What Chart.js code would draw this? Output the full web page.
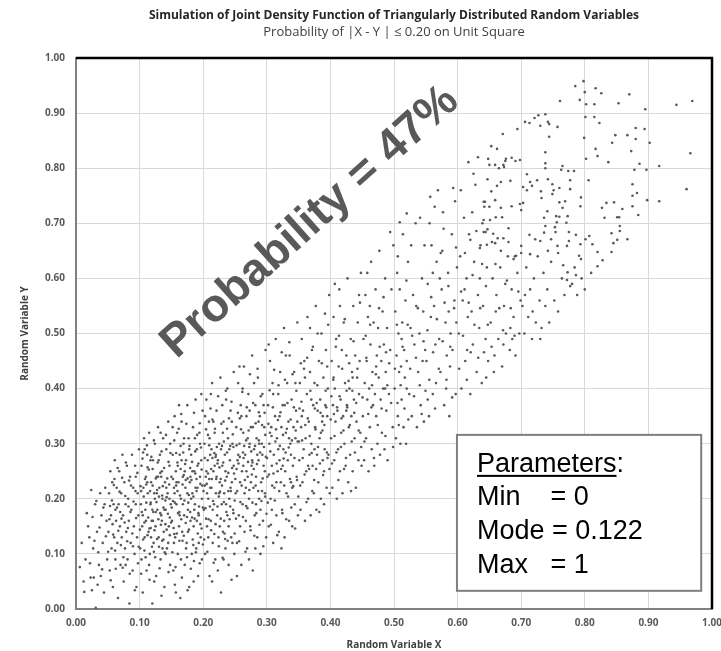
<!DOCTYPE html>
<html>
<head>
<meta charset="utf-8">
<script src="https://cdn.jsdelivr.net/npm/chart.js@4.4.1/dist/chart.umd.min.js"></script>
<style>
  html, body { margin: 0; padding: 0; background: #fff; }
  canvas { display: block; }
</style>
</head>
<body>
<canvas id="jointChart" width="721" height="651"></canvas>
<script>
const chartTitle = "Simulation of Joint Density Function of Triangularly Distributed Random Variables";
const chartSubtitle = "Probability of |X - Y | \u2264 0.20 on Unit Square";
const xAxisTitle = "Random Variable X";
const yAxisTitle = "Random Variable Y";
const tickValues = [0, 0.1, 0.2, 0.3, 0.4, 0.5, 0.6, 0.7, 0.8, 0.9, 1];
const probabilityLabel = "Probability = 47%";
const paramHeading = "Parameters";
const paramLines = ["Min    = 0", "Mode = 0.122", "Max   = 1"];

// simulated (x, y) pairs, read off the picture strip by strip
const samples = [
  // x 0.00 - 0.05
  [.006,.076],[.023,.057],[.028,.057],[.034,.044],[.013,.031],[.031,.002],[.017,.174],[.024,.216],[.009,.12],[.015,.09],[.019,.15],[.027,.11],[.03,.19],[.033,.14],[.036,.08],[.038,.21],[.04,.17],[.042,.12],[.044,.03],[.046,.22],[.048,.16],[.049,.09],[.021,.13],[.039,.06],[.045,.19],[.012,.05],
  [.022,.083],[.026,.167],[.029,.124],[.032,.196],[.035,.103],[.037,.148],[.041,.072],[.043,.184],[.047,.132],[.025,.034],
  // x 0.05 - 0.10
  [.051,.14],[.052,.21],[.053,.07],[.054,.25],[.055,.17],[.056,.11],[.057,.23],[.058,.04],[.059,.19],[.06,.13],[.061,.27],[.062,.09],[.063,.16],[.064,.22],[.065,.12],[.066,.02],[.067,.19],[.068,.25],[.069,.15],[.07,.08],[.071,.21],[.072,.13],[.073,.28],[.074,.17],[.075,.05],[.076,.23],[.077,.11],[.078,.19],[.079,.14],[.08,.26],[.081,.09],[.082,.20],[.083,.16],[.084,.01],[.085,.24],[.086,.12],[.087,.18],[.088,.28],[.089,.07],[.09,.22],[.091,.15],[.092,.10],[.093,.26],[.094,.19],[.095,.04],[.096,.13],[.097,.21],[.098,.17],[.099,.29],[.062,.18],[.078,.08],[.094,.24],
  [.0505,.104],[.0525,.163],[.0545,.052],[.0565,.197],[.0585,.135],[.0605,.236],[.0625,.073],[.0645,.184],[.0665,.142],[.0685,.213],[.0705,.116],[.0725,.238],[.0745,.094],[.0765,.157],[.0785,.266],[.0805,.123],[.0825,.186],[.0845,.064],[.0865,.224],[.0885,.137],[.0905,.195],[.0925,.034],[.0945,.165],[.0965,.247],[.0985,.113],[.0535,.187],[.0575,.154],[.0615,.106],[.0655,.256],[.0695,.176],[.0735,.075],[.0775,.205],[.0815,.147],[.0855,.176],[.0895,.114],[.0935,.214],[.0975,.083],[.0595,.225],[.0715,.164],[.0835,.233],
  // x 0.10 - 0.15
  [.101,.11],[.102,.19],[.103,.26],[.104,.15],[.105,.03],[.106,.22],[.107,.31],[.108,.13],[.109,.18],[.11,.24],[.111,.07],[.112,.28],[.113,.21],[.114,.14],[.115,.32],[.116,.10],[.117,.19],[.118,.23],[.119,.16],[.12,.01],[.121,.27],[.122,.12],[.123,.21],[.124,.30],[.125,.15],[.126,.06],[.127,.24],[.128,.18],[.129,.33],[.13,.13],[.131,.22],[.132,.28],[.133,.09],[.134,.17],[.135,.25],[.136,.20],[.137,.31],[.138,.14],[.139,.04],[.14,.23],[.141,.18],[.142,.29],[.143,.11],[.144,.21],[.145,.34],[.146,.15],[.147,.26],[.148,.08],[.149,.19],[.105,.17],[.112,.23],[.118,.13],[.124,.20],[.13,.27],[.136,.11],[.142,.22],[.148,.30],[.108,.29],[.115,.08],[.121,.16],[.127,.21],[.133,.32],[.139,.18],[.145,.12],[.15,.24],[.103,.09],[.11,.16],[.117,.27],[.123,.05],[.129,.24],[.135,.16],[.141,.10],[.147,.20],[.12,.18],[.134,.24],
  [.1005,.144],[.1015,.223],[.1025,.064],[.1035,.176],[.1045,.273],[.1055,.126],[.1065,.204],[.1075,.157],[.1085,.236],[.1095,.094],[.1105,.193],[.1115,.297],[.1125,.134],[.1135,.166],[.1145,.253],[.1155,.053],[.1165,.214],[.1175,.147],[.1185,.276],[.1195,.113],[.1205,.224],[.1215,.176],[.1225,.306],[.1235,.143],[.1245,.094],[.1255,.237],[.1265,.194],[.1275,.127],[.1285,.266],[.1295,.163],[.1305,.204],[.1315,.074],[.1325,.247],[.1335,.153],[.1345,.286],[.1355,.124],[.1365,.223],[.1375,.184],[.1385,.256],[.1395,.103],[.1405,.197],[.1415,.316],[.1425,.144],[.1435,.237],[.1445,.173],[.1455,.067],[.1465,.226],[.1475,.134],[.1485,.283],[.1495,.157],[.1025,.214],[.1075,.106],[.1125,.257],[.1175,.193],[.1225,.104],[.1275,.216],[.1325,.174],[.1375,.126],[.1425,.203],[.1475,.166],[.1055,.284],[.1105,.226],[.1155,.146],[.1205,.254],[.1255,.176],[.1305,.113],[.1355,.206],[.1405,.154],[.1455,.267],[.1345,.024],
  // x 0.15 - 0.20
  [.151,.16],[.152,.28],[.153,.07],[.154,.22],[.155,.35],[.156,.13],[.157,.25],[.158,.19],[.159,.32],[.16,.10],[.161,.23],[.162,.15],[.163,.28],[.164,.02],[.165,.20],[.166,.34],[.167,.14],[.168,.24],[.169,.30],[.17,.17],[.171,.08],[.172,.22],[.173,.27],[.174,.12],[.175,.37],[.176,.18],[.177,.31],[.178,.04],[.179,.23],[.18,.16],[.181,.28],[.182,.10],[.183,.21],[.184,.33],[.185,.15],[.186,.25],[.187,.19],[.188,.38],[.189,.11],[.19,.29],[.191,.22],[.192,.06],[.193,.17],[.194,.32],[.195,.24],[.196,.13],[.197,.27],[.198,.20],[.199,.36],[.155,.21],[.16,.26],[.165,.09],[.17,.31],[.175,.21],[.18,.24],[.185,.05],[.19,.16],[.195,.30],[.158,.23],[.163,.17],[.168,.19],[.173,.11],[.178,.29],[.183,.25],[.188,.22],[.193,.12],[.198,.09],[.152,.33],[.162,.37],[.187,.31],[.197,.39],[.154,.12],[.166,.27],[.176,.14],[.186,.18],[.171,.25],[.181,.20],[.191,.26],[.157,.03],
  [.1505,.184],[.1515,.103],[.1525,.236],[.1535,.147],[.1545,.306],[.1555,.193],[.1565,.076],[.1575,.224],[.1585,.137],[.1595,.266],[.1605,.174],[.1615,.327],[.1625,.124],[.1635,.206],[.1645,.254],[.1655,.163],[.1665,.057],[.1675,.226],[.1685,.284],[.1695,.133],[.1705,.197],[.1715,.263],[.1725,.156],[.1735,.336],[.1745,.094],[.1755,.237],[.1765,.193],[.1775,.144],[.1785,.296],[.1795,.176],[.1805,.073],[.1815,.234],[.1825,.267],[.1835,.126],[.1845,.204],[.1855,.356],[.1865,.164],[.1875,.246],[.1885,.103],[.1895,.214],[.1905,.316],[.1915,.137],[.1925,.264],[.1935,.186],[.1945,.083],[.1955,.227],[.1965,.293],[.1975,.146],[.1985,.224],[.1995,.117],[.1525,.196],[.1575,.283],[.1625,.176],[.1675,.124],[.1725,.234],[.1775,.207],[.1825,.166],[.1875,.286],[.1925,.174],[.1975,.253],[.1545,.136],[.1595,.214],[.1645,.296],[.1695,.243],[.1745,.167],[.1795,.256],[.1845,.116],[.1895,.236],[.1945,.337],[.1995,.184],[.1555,.044],[.1655,.354],[.1755,.034],[.1855,.087],[.1955,.154],
  // x 0.20 - 0.25
  [.201,.18],[.202,.30],[.203,.10],[.204,.24],[.205,.38],[.206,.15],[.207,.27],[.208,.20],[.209,.34],[.21,.06],[.211,.22],[.212,.16],[.213,.29],[.214,.41],[.215,.12],[.216,.25],[.217,.19],[.218,.32],[.219,.09],[.22,.21],[.221,.36],[.222,.17],[.223,.27],[.224,.13],[.225,.30],[.226,.23],[.227,.42],[.228,.03],[.229,.19],[.23,.26],[.231,.14],[.232,.34],[.233,.21],[.234,.28],[.235,.11],[.236,.38],[.237,.24],[.238,.17],[.239,.31],[.24,.08],[.241,.20],[.242,.27],[.243,.36],[.244,.13],[.245,.23],[.246,.30],[.247,.18],[.248,.43],[.249,.10],[.205,.25],[.21,.31],[.215,.18],[.22,.28],[.225,.21],[.23,.37],[.235,.25],[.24,.15],[.245,.34],[.203,.35],[.208,.13],[.213,.22],[.218,.26],[.223,.07],[.228,.29],[.233,.16],[.238,.40],[.243,.22],[.248,.26],[.212,.39],[.232,.09],[.206,.21],[.216,.34],[.226,.15],[.236,.19],[.246,.12],[.211,.28],[.221,.24],[.231,.32],[.241,.29],[.214,.05],
  [.2005,.214],[.2015,.126],[.2025,.274],[.2035,.183],[.2045,.326],[.2055,.227],[.2065,.104],[.2075,.246],[.2085,.163],[.2095,.297],[.2105,.186],[.2115,.364],[.2125,.143],[.2135,.236],[.2145,.274],[.2155,.196],[.2165,.084],[.2175,.283],[.2185,.327],[.2195,.154],[.2205,.236],[.2215,.294],[.2225,.186],[.2235,.386],[.2245,.114],[.2255,.257],[.2265,.213],[.2275,.164],[.2285,.336],[.2295,.224],[.2305,.093],[.2315,.266],[.2325,.304],[.2335,.137],[.2345,.233],[.2355,.396],[.2365,.176],[.2375,.284],[.2385,.124],[.2395,.247],[.2405,.346],[.2415,.163],[.2425,.296],[.2435,.214],[.2445,.053],[.2455,.256],[.2465,.317],[.2475,.174],[.2485,.246],[.2495,.137],[.2025,.224],[.2075,.316],[.2125,.254],[.2175,.136],[.2225,.264],[.2275,.236],[.2325,.194],[.2375,.327],[.2425,.186],[.2475,.294],[.2045,.164],[.2095,.236],[.2145,.344],[.2195,.276],[.2245,.204],[.2295,.296],[.2345,.127],[.2395,.214],[.2445,.376],[.2495,.197],
  // x 0.25 - 0.30
  [.251,.21],[.252,.33],[.253,.12],[.254,.27],[.255,.41],[.256,.17],[.257,.30],[.258,.23],[.259,.37],[.26,.08],[.261,.25],[.262,.19],[.263,.32],[.264,.44],[.265,.14],[.266,.28],[.267,.22],[.268,.35],[.269,.11],[.27,.24],[.271,.39],[.272,.20],[.273,.30],[.274,.15],[.275,.33],[.276,.26],[.277,.46],[.278,.07],[.279,.22],[.28,.29],[.281,.17],[.282,.37],[.283,.24],[.284,.31],[.285,.13],[.286,.42],[.287,.27],[.288,.20],[.289,.35],[.29,.10],[.291,.23],[.292,.30],[.293,.39],[.294,.16],[.295,.26],[.296,.33],[.297,.21],[.298,.47],[.299,.13],[.255,.28],[.26,.35],[.265,.21],[.27,.31],[.275,.23],[.28,.41],[.285,.28],[.29,.18],[.295,.37],[.258,.15],[.268,.25],[.278,.33],[.288,.30],[.297,.25],[.262,.40],[.282,.11],[.253,.06],[.263,.26],[.273,.36],[.283,.19],[.293,.28],[.257,.44],[.267,.16],[.277,.27],[.287,.34],[.272,.09],
  [.2505,.236],[.2515,.164],[.2525,.297],[.2535,.214],[.2545,.356],[.2555,.264],[.2565,.123],[.2575,.276],[.2585,.194],[.2595,.326],[.2605,.224],[.2615,.394],[.2625,.167],[.2635,.274],[.2645,.296],[.2655,.234],[.2665,.104],[.2675,.306],[.2685,.366],[.2695,.183],[.2705,.267],[.2715,.324],[.2725,.216],[.2735,.426],[.2745,.143],[.2755,.286],[.2765,.244],[.2775,.193],[.2785,.374],[.2795,.254],[.2805,.133],[.2815,.296],[.2825,.337],[.2835,.174],[.2845,.263],[.2855,.436],[.2865,.214],[.2875,.306],[.2885,.153],[.2895,.284],[.2905,.386],[.2915,.196],[.2925,.334],[.2935,.237],[.2945,.114],[.2955,.294],[.2965,.356],[.2975,.204],[.2985,.276],[.2995,.173],[.2525,.254],[.2575,.346],[.2625,.284],[.2675,.187],[.2725,.294],[.2775,.266],[.2825,.224],[.2875,.357],[.2925,.214],[.2975,.316],
  // x 0.30 - 0.35
  [.301,.24],[.302,.37],[.303,.15],[.304,.30],[.305,.45],[.306,.20],[.307,.33],[.308,.26],[.309,.41],[.31,.12],[.311,.28],[.312,.22],[.313,.35],[.314,.49],[.315,.17],[.316,.31],[.317,.25],[.318,.39],[.319,.14],[.32,.27],[.321,.43],[.322,.23],[.323,.33],[.324,.18],[.325,.37],[.326,.29],[.327,.51],[.328,.13],[.329,.25],[.33,.32],[.331,.21],[.332,.41],[.333,.27],[.334,.34],[.335,.16],[.336,.46],[.337,.30],[.338,.23],[.339,.38],[.34,.15],[.341,.26],[.342,.33],[.343,.43],[.344,.19],[.345,.31],[.346,.36],[.347,.24],[.348,.52],[.349,.17],[.305,.32],[.31,.39],[.315,.23],[.32,.35],[.325,.26],[.33,.46],[.335,.31],[.34,.22],[.345,.41],[.308,.18],[.328,.37],[.303,.48],[.318,.29],[.338,.28],[.348,.34],[.323,.11],
  [.3005,.274],[.3015,.193],[.3025,.336],[.3035,.244],[.3045,.397],[.3055,.286],[.3065,.153],[.3075,.314],[.3085,.224],[.3095,.366],[.3105,.246],[.3115,.434],[.3125,.197],[.3135,.304],[.3145,.326],[.3155,.264],[.3165,.134],[.3175,.343],[.3185,.406],[.3195,.214],[.3205,.296],[.3215,.357],[.3225,.254],[.3235,.466],[.3245,.174],[.3255,.316],[.3265,.273],[.3275,.224],[.3285,.416],[.3295,.284],[.3305,.163],[.3315,.327],[.3325,.374],[.3335,.204],[.3345,.293],[.3355,.484],[.3365,.236],[.3375,.344],[.3385,.184],[.3395,.306],[.3405,.426],[.3415,.223],[.3425,.366],[.3435,.274],[.3445,.146],[.3455,.324],[.3465,.396],[.3475,.234],[.3485,.304],[.3495,.204],
  // x 0.35 - 0.40
  [.351,.27],[.352,.41],[.353,.18],[.354,.33],[.355,.49],[.356,.23],[.357,.36],[.358,.29],[.359,.45],[.36,.16],[.361,.31],[.362,.25],[.363,.39],[.364,.53],[.365,.20],[.366,.34],[.367,.28],[.368,.43],[.369,.17],[.37,.30],[.371,.47],[.372,.26],[.373,.37],[.374,.21],[.375,.41],[.376,.33],[.377,.55],[.378,.18],[.379,.28],[.38,.36],[.381,.23],[.382,.45],[.383,.31],[.384,.38],[.385,.20],[.386,.50],[.387,.34],[.388,.27],[.389,.42],[.39,.19],[.391,.29],[.392,.37],[.393,.47],[.394,.22],[.395,.35],[.396,.40],[.397,.28],[.398,.57],[.399,.21],[.355,.35],[.36,.42],[.365,.26],[.37,.38],[.375,.29],[.38,.50],[.385,.32],[.39,.25],[.395,.44],[.368,.51],[.388,.35],
  [.3505,.304],[.3525,.224],[.3545,.376],[.3565,.274],[.3585,.436],[.3605,.334],[.3625,.194],[.3645,.346],[.3665,.254],[.3685,.396],[.3705,.283],[.3725,.476],[.3745,.234],[.3765,.326],[.3785,.374],[.3805,.294],[.3825,.176],[.3845,.356],[.3865,.446],[.3885,.243],[.3905,.334],[.3925,.396],[.3945,.284],[.3965,.516],[.3985,.254],[.3515,.364],[.3555,.306],[.3595,.244],[.3635,.456],[.3675,.314],[.3715,.214],[.3755,.364],[.3795,.406],[.3835,.264],[.3875,.324],[.3915,.536],[.3955,.274],[.3535,.446],[.3775,.254],[.3935,.366],
  // x 0.40 - 0.45
  [.401,.31],[.402,.45],[.403,.22],[.404,.37],[.405,.53],[.406,.27],[.407,.40],[.408,.34],[.409,.49],[.41,.20],[.411,.36],[.412,.29],[.413,.44],[.414,.58],[.415,.25],[.416,.38],[.417,.32],[.418,.47],[.419,.21],[.42,.35],[.421,.52],[.422,.30],[.423,.41],[.424,.26],[.425,.46],[.426,.37],[.427,.60],[.428,.23],[.429,.33],[.43,.40],[.431,.28],[.432,.49],[.433,.35],[.434,.43],[.435,.25],[.436,.55],[.437,.38],[.438,.31],[.439,.46],[.44,.22],[.441,.34],[.442,.42],[.443,.52],[.444,.27],[.445,.39],[.446,.45],[.447,.32],[.448,.61],[.449,.26],[.405,.42],[.425,.36],[.415,.55],[.435,.42],[.407,.59],[.445,.57],
  [.4005,.344],[.4025,.264],[.4045,.416],[.4065,.314],[.4085,.476],[.4105,.366],[.4125,.234],[.4145,.386],[.4165,.294],[.4185,.436],[.4205,.324],[.4225,.526],[.4245,.274],[.4265,.366],[.4285,.414],[.4305,.334],[.4325,.214],[.4345,.396],[.4365,.486],[.4385,.284],[.4405,.374],[.4425,.436],[.4445,.324],[.4465,.556],[.4485,.294],[.4015,.386],[.4055,.354],[.4095,.284],[.4135,.496],[.4175,.346],[.4215,.254],[.4255,.396],[.4295,.446],[.4335,.304],[.4375,.356],
  // x 0.45 - 0.50
  [.451,.35],[.452,.49],[.453,.27],[.454,.41],[.455,.57],[.456,.31],[.457,.45],[.458,.38],[.459,.53],[.46,.25],[.461,.40],[.462,.33],[.463,.48],[.464,.63],[.465,.29],[.466,.43],[.467,.37],[.468,.52],[.469,.26],[.47,.39],[.471,.58],[.472,.35],[.473,.46],[.474,.30],[.475,.51],[.476,.42],[.477,.65],[.478,.28],[.479,.38],[.48,.45],[.481,.32],[.482,.54],[.483,.40],[.484,.48],[.485,.29],[.486,.60],[.487,.43],[.488,.36],[.489,.51],[.49,.27],[.492,.39],[.494,.47],[.496,.58],[.498,.33],[.499,.66],[.494,.684],[.458,.61],[.472,.44],[.486,.40],[.462,.55],
  [.4505,.384],[.4535,.304],[.4565,.456],[.4595,.354],[.4625,.516],[.4655,.406],[.4685,.274],[.4715,.426],[.4745,.334],[.4775,.476],[.4805,.364],[.4835,.566],[.4865,.314],[.4895,.406],[.4925,.446],[.4955,.374],[.4985,.294],[.4555,.496],[.4645,.366],[.4765,.546],[.4875,.466],
  // x 0.50 - 0.55
  [.501,.40],[.502,.54],[.503,.31],[.504,.46],[.505,.61],[.506,.35],[.507,.50],[.508,.43],[.509,.58],[.51,.30],[.511,.44],[.512,.38],[.513,.52],[.514,.68],[.515,.33],[.516,.47],[.517,.42],[.518,.56],[.519,.30],[.52,.45],[.522,.63],[.524,.39],[.526,.51],[.528,.35],[.53,.57],[.532,.48],[.534,.70],[.536,.33],[.538,.43],[.54,.50],[.542,.37],[.544,.60],[.545,.45],[.546,.54],[.547,.34],[.548,.66],[.549,.47],[.509,.702],[.52,.718],[.506,.64],[.52,.40],[.535,.55],[.527,.66],[.541,.71],[.512,.49],
  [.5015,.436],[.5045,.516],[.5075,.334],[.5105,.406],[.5135,.476],[.5165,.364],[.5195,.596],[.5225,.344],[.5255,.436],[.5285,.496],[.5315,.386],[.5345,.456],[.5375,.546],[.5405,.406],[.5435,.354],[.5465,.486],[.5495,.396],[.5055,.374],[.5215,.516],
  // x 0.55 - 0.60
  [.551,.45],[.553,.59],[.555,.35],[.557,.748],[.559,.66],[.561,.39],[.563,.55],[.565,.48],[.567,.63],[.569,.760],[.571,.49],[.573,.43],[.575,.58],[.577,.72],[.579,.37],[.581,.52],[.583,.46],[.585,.61],[.587,.35],[.589,.50],[.591,.68],[.593,.764],[.595,.56],[.597,.39],[.599,.62],[.556,.70],[.566,.41],[.576,.65],[.586,.54],[.596,.74],[.558,.53],[.572,.60],[.582,.40],[.592,.47],[.564,.73],[.553,.38],[.578,.69],[.588,.44],[.598,.52],[.561,.61],
  [.5525,.506],[.5555,.416],[.5585,.566],[.5615,.466],[.5645,.364],[.5675,.526],[.5705,.436],[.5735,.646],[.5765,.486],[.5795,.556],[.5825,.416],[.5855,.586],[.5885,.476],[.5915,.384],[.5945,.546],[.5975,.656],
  // x 0.60 - 0.65
  [.602,.50],[.604,.64],[.606,.40],[.608,.56],[.61,.71],[.612,.45],[.614,.60],[.616,.53],[.617,.811],[.618,.68],[.62,.39],[.622,.54],[.624,.48],[.626,.63],[.628,.77],[.63,.43],[.632,.820],[.632,.57],[.634,.51],[.636,.66],[.638,.41],[.64,.55],[.642,.73],[.644,.49],[.646,.62],[.648,.45],[.605,.76],[.615,.47],[.625,.79],[.635,.60],[.645,.42],[.62,.67],[.611,.58],[.623,.72],[.639,.70],[.647,.78],
  [.6025,.436],[.6055,.576],[.6085,.496],[.6115,.646],[.6145,.416],[.6175,.556],[.6205,.466],[.6235,.606],[.6265,.516],[.6295,.686],[.6325,.456],[.6355,.546],[.6385,.626],[.6415,.466],[.6445,.586],[.6475,.516],
  // x 0.65 - 0.70
  [.652,.52],[.655,.60],[.658,.46],[.661,.57],[.664,.49],[.667,.62],[.67,.44],[.673,.55],[.676,.50],[.679,.64],[.682,.47],[.685,.58],[.688,.53],[.691,.46],[.694,.61],[.697,.50],[.699,.56],[.66,.54],[.668,.65],[.675,.59],[.683,.51],[.69,.64],[.657,.43],[.672,.48],[.686,.49],
  [.6535,.476],[.6595,.626],[.6655,.546],[.6715,.506],[.6775,.596],[.6835,.546],[.6895,.496],[.6955,.576],
  // x 0.70 - 0.80, lower part
  [.702,.55],[.705,.50],[.708,.62],[.711,.53],[.714,.58],[.717,.49],[.72,.60],[.723,.52],[.726,.64],[.729,.56],[.732,.51],[.735,.61],[.738,.55],[.741,.58],[.744,.52],[.747,.63],[.706,.57],[.718,.54],[.73,.49],[.742,.65],
  [.752,.56],[.758,.54],[.764,.60],[.768,.57],[.78,.59],[.788,.57],[.795,.60],[.784,.62],[.80,.58],[.81,.61],
  // upper right tail
  [.798,.958],[.785,.949],[.817,.945],[.826,.936],[.870,.934],[.944,.915],[.969,.922],[.966,.827],[.960,.762],[.917,.740],[.898,.742],[.917,.804],[.895,.907],[.902,.846],[.761,.922],[.792,.924],[.800,.938],[.802,.916],[.815,.916],[.853,.918],[.801,.893],[.815,.893],[.823,.882],[.799,.855],[.817,.835],[.820,.822],[.802,.817],[.837,.811],[.848,.860],[.843,.846],[.867,.860],[.880,.873],[.894,.871],[.880,.853],[.873,.831],[.886,.808],[.878,.797],[.897,.797],[.875,.771],[.882,.755],[.875,.750],[.875,.731],[.884,.715],[.859,.726],[.854,.711],[.851,.711],[.855,.695],[.855,.686],[.867,.671],[.846,.738],[.834,.737],[.827,.728],[.831,.710],[.842,.682],[.851,.670],[.842,.648],[.845,.664],[.828,.633],[.820,.622],[.820,.648],[.812,.662],[.801,.671],[.807,.677],[.793,.662],[.791,.641],[.794,.635],[.786,.606],[.777,.586],[.772,.597],[.773,.611],[.766,.624],[.758,.646],[.772,.659],[.775,.684],[.786,.679],[.775,.668],[.757,.659],[.754,.684],[.771,.701],[.760,.712],[.756,.702],[.755,.713],[.741,.722],[.736,.710],[.738,.695],[.736,.683],[.730,.668],[.722,.671],[.747,.671],[.753,.693],[.773,.713],[.765,.728],[.760,.738],[.769,.740],[.777,.762],[.777,.778],[.794,.747],[.793,.731],[.806,.778],[.763,.797],[.765,.804],[.774,.795],[.783,.795],[.749,.771],[.742,.780],[.749,.753],[.751,.760],[.760,.764],[.732,.746],[.731,.758],[.725,.778],[.714,.775],[.717,.768],[.703,.766],[.709,.760],[.709,.789],[.738,.829],[.738,.809],[.738,.800],[.744,.857],[.757,.875],[.742,.884],[.744,.880],[.730,.877],[.738,.898],[.727,.896],[.721,.891],[.713,.882],[.706,.884],[.694,.871],[.671,.862],[.653,.840],[.662,.835],[.648,.817],[.676,.817],[.675,.813],[.685,.819],[.691,.813],[.698,.815],[.650,.806],[.665,.800],[.672,.806],[.673,.802],[.659,.806],[.698,.735],[.703,.737],[.700,.724],[.683,.777],[.668,.775],[.662,.768],[.653,.758],[.685,.731],[.668,.728],[.659,.742],[.641,.739],[.643,.739],[.650,.730],[.660,.711],[.670,.711],[.641,.706],[.651,.706],[.680,.691],[.641,.684],[.644,.684],[.647,.689],[.656,.681],[.663,.673],[.672,.673],[.680,.666],[.654,.666],[.659,.664],[.646,.661],[.635,.655],[.700,.659],[.713,.679],[.700,.646],[.692,.641],[.688,.635],[.714,.644]
];

const tickFont = { family: "'Open Sans', sans-serif", size: 10, weight: 'bold' };
const axisTitleFont = { family: "'Open Sans', sans-serif", size: 10, weight: 'bold' };

// frame on top/right, rotated label and parameter box
const overlay = {
  id: 'overlay',
  afterDatasetsDraw(chart) {
    const { ctx, chartArea: a, scales: { x, y } } = chart;
    ctx.save();

    ctx.strokeStyle = '#000000';
    ctx.lineWidth = 2.5;
    ctx.beginPath();
    ctx.moveTo(a.left, a.top);
    ctx.lineTo(a.right, a.top);
    ctx.lineTo(a.right, a.bottom);
    ctx.stroke();

    // big rotated text
    ctx.save();
    ctx.translate(x.getPixelForValue(0.368), y.getPixelForValue(0.702));
    ctx.rotate(-42 * Math.PI / 180);
    ctx.font = "bold 46px 'Liberation Sans', Arial, sans-serif";
    ctx.fillStyle = '#595959';
    ctx.textAlign = 'center';
    ctx.textBaseline = 'middle';
    ctx.fillText(probabilityLabel, 0, 0);
    ctx.restore();

    // parameters box
    const bx0 = x.getPixelForValue(0.599), bx1 = x.getPixelForValue(0.983);
    const by0 = y.getPixelForValue(0.316), by1 = y.getPixelForValue(0.033);
    ctx.fillStyle = '#ffffff';
    ctx.fillRect(bx0, by0, bx1 - bx0, by1 - by0);
    ctx.strokeStyle = '#7f7f7f';
    ctx.lineWidth = 2;
    ctx.strokeRect(bx0, by0, bx1 - bx0, by1 - by0);

    ctx.font = "27px 'Liberation Sans', Arial, sans-serif";
    ctx.fillStyle = '#000000';
    ctx.textAlign = 'left';
    ctx.textBaseline = 'alphabetic';
    const tx = bx0 + 20;
    let ty = by0 + 37;
    ctx.fillText(paramHeading + ':', tx, ty);
    const w = ctx.measureText(paramHeading).width;
    ctx.fillRect(tx, ty + 3, w, 2);
    paramLines.forEach(line => {
      ty += 33.6;
      ctx.fillText(line, tx, ty);
    });

    ctx.restore();
  }
};

const data = {
  datasets: [{
    label: 'Simulation',
    data: samples.map(([px, py]) => ({ x: px, y: py })),
    backgroundColor: '#595959',
    borderWidth: 0,
    pointRadius: 1.3,
    pointHoverRadius: 1.3
  }]
};

const config = {
  type: 'scatter',
  data: data,
  options: {
    responsive: false,
    animation: false,
    events: [],
    layout: { padding: { left: 0, right: 9, top: 0, bottom: 0 } },
    plugins: {
      legend: { display: false },
      tooltip: { enabled: false },
      title: {
        display: true,
        fullSize: false,
        text: chartTitle,
        color: '#262626',
        font: { family: "'Open Sans', sans-serif", size: 12, weight: 'bold' },
        padding: { top: 8, bottom: 2 }
      },
      subtitle: {
        display: true,
        fullSize: false,
        text: chartSubtitle,
        color: '#404040',
        font: { family: "'Open Sans', sans-serif", size: 13 },
        padding: { top: 0, bottom: 18 }
      }
    },
    scales: {
      x: {
        type: 'linear',
        min: 0,
        max: 1,
        afterBuildTicks: s => { s.ticks = tickValues.map(v => ({ value: v })); },
        afterFit: s => { s.height = 42; s.paddingLeft = 0; s.paddingRight = 0; },
        ticks: {
          callback: v => v.toFixed(2),
          color: '#595959',
          font: tickFont,
          padding: 8,
          maxRotation: 0,
          autoSkip: false
        },
        grid: { color: '#d9d9d9', lineWidth: 1, drawTicks: false },
        border: { color: '#808080', width: 2 },
        title: {
          display: true,
          text: xAxisTitle,
          color: '#404040',
          font: axisTitleFont,
          padding: { top: 0, bottom: 0 }
        }
      },
      y: {
        type: 'linear',
        min: 0,
        max: 1,
        afterBuildTicks: s => { s.ticks = tickValues.map(v => ({ value: v })); },
        afterFit: s => { s.width = 76; s.paddingTop = 0; s.paddingBottom = 0; },
        ticks: {
          callback: v => v.toFixed(2),
          color: '#595959',
          font: tickFont,
          padding: 11,
          autoSkip: false
        },
        grid: { color: '#d9d9d9', lineWidth: 1, drawTicks: false },
        border: { color: '#808080', width: 2 },
        title: {
          display: true,
          text: yAxisTitle,
          color: '#404040',
          font: axisTitleFont,
          padding: { top: 19, bottom: 0 }
        }
      }
    }
  },
  plugins: [overlay]
};

const myChart = new Chart(document.getElementById('jointChart'), config);
</script>
</body>
</html>
